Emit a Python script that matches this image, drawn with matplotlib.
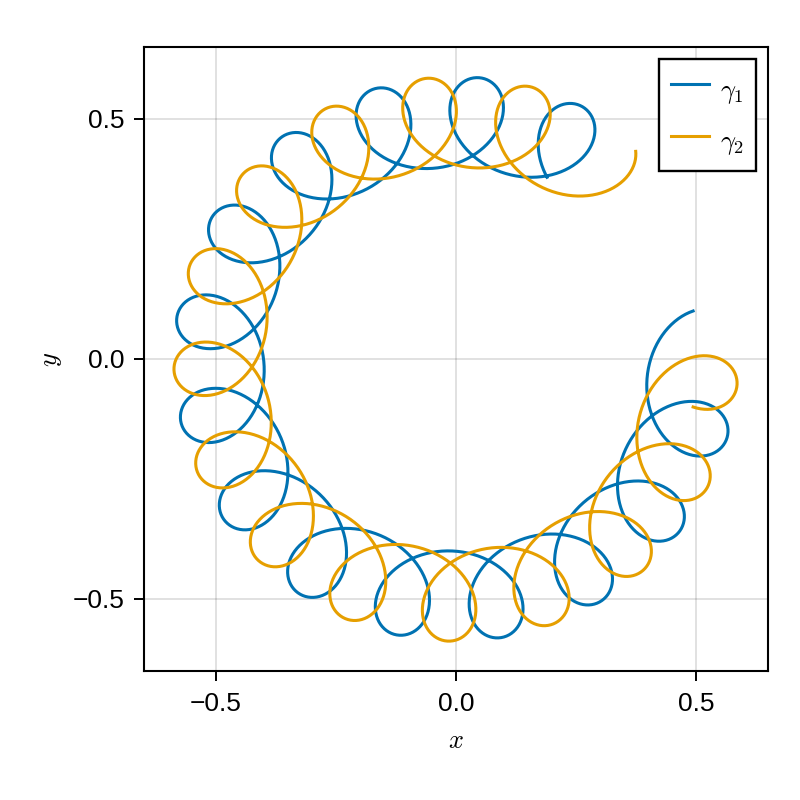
import numpy as np
import matplotlib
matplotlib.use("Agg")
import matplotlib.pyplot as plt

# curve parameters
center_radius = 0.494
radial_amp = 0.094
tangential_amp = 0.1
loop_freq = 5 * np.pi + 1
t_end = 5.32
n_points = 3000

labels = [r"$\gamma_1$", r"$\gamma_2$"]
signs = [1, -1]
colors = ["#0072B2", "#E69F00"]

x_ticks = [-0.5, 0.0, 0.5]
y_ticks = [-0.5, 0.0, 0.5]
tick_labels = ["\u22120.5", "0.0", "0.5"]

plt.rcParams["font.family"] = ["Liberation Sans", "DejaVu Sans"]
plt.rcParams["mathtext.fontset"] = "cm"

fig = plt.figure(figsize=(8, 8), dpi=100)
ax = fig.add_axes([0.18, 0.16125, 0.78, 0.78])

t = np.linspace(0, t_end, n_points)
psi = loop_freq * t
for label, sgn, color in zip(labels, signs, colors):
    # loop in the rotating frame, then turned clockwise around the origin
    local = center_radius - sgn * radial_amp * np.sin(psi) + 1j * sgn * tangential_amp * np.cos(psi)
    z = np.exp(-1j * t) * local
    ax.plot(z.real, z.imag, color=color, lw=2.2, label=label)

ax.set_xlim(-0.65, 0.65)
ax.set_ylim(-0.65, 0.65)
ax.set_xticks(x_ticks)
ax.set_xticklabels(tick_labels)
ax.set_yticks(y_ticks)
ax.set_yticklabels(tick_labels)
ax.grid(True, color="black", alpha=0.12, lw=1.4)
ax.set_axisbelow(True)
ax.tick_params(direction="out", length=7.2, width=1.4, labelsize=19)
ax.tick_params(axis="x", pad=8)
ax.tick_params(axis="y", pad=7)
for s in ax.spines.values():
    s.set_linewidth(1.5)

ax.set_xlabel(r"$x$", fontsize=19, labelpad=9)
ax.set_ylabel(r"$y$", fontsize=19, labelpad=6)

leg = ax.legend(loc="upper right", fontsize=19, frameon=True, fancybox=False,
                edgecolor="black", framealpha=1, handlelength=1.45,
                handleheight=1.8, handletextpad=0.42, borderpad=0.45,
                labelspacing=0.53, borderaxespad=0.45)
leg.get_frame().set_linewidth(1.7)

fig.savefig("out.png", dpi=100)
